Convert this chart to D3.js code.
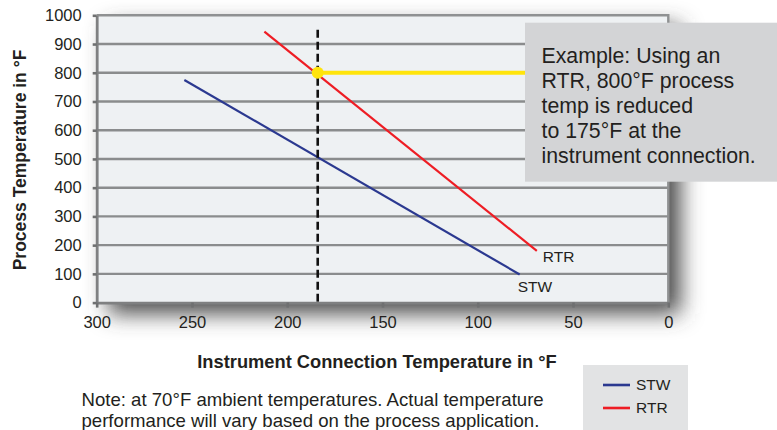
<!DOCTYPE html>
<html>
<head>
<meta charset="utf-8">
<script src="https://cdn.jsdelivr.net/npm/d3@7"></script>
<style>
  body { margin: 0; background: #fff; }
  svg { display: block; font-family: 'Liberation Sans', Arial, sans-serif; }
</style>
</head>
<body>
<svg width="777" height="430"></svg>
<script>
// Tick values for both axes
const xTicks = [300, 250, 200, 150, 100, 50, 0]
const yTicks = [0, 100, 200, 300, 400, 500, 600, 700, 800, 900, 1000]
// Each series is a straight line: connection temp (x) vs process temp (y)
const seriesNames = ['STW', 'RTR']
const stwConnection = [254, 78]
const stwProcess = [775, 98]
const rtrConnection = [212, 69]
const rtrProcess = [943, 180]
// Worked example marked on the chart
const exampleConnection = 184
const exampleProcess = 800
const exampleLineTop = 950
const exampleLines = [
  'Example: Using an',
  'RTR, 800°F process',
  'temp is reduced',
  'to 175°F at the',
  'instrument connection.',
]
const noteLines = [
  'Note: at 70°F ambient temperatures. Actual temperature',
  'performance will vary based on the process application.',
]

const colors = { STW: '#2b3990', RTR: '#ee1d24' }
const textColor = '#231f20'

const svg = d3.select('svg')

const x = d3.scaleLinear().domain([300, 0]).range([96.7, 668.3])
const y = d3.scaleLinear().domain([0, 1000]).range([302.6, 15.3])

const plotLeft = x(300)
const plotRight = x(0)
const plotTop = y(1000)
const plotBottom = y(0)

// Blurred drop shadow behind the plot area
svg
  .append('defs')
  .append('filter')
  .attr('id', 'shadow')
  .attr('x', '-20%')
  .attr('y', '-20%')
  .attr('width', '150%')
  .attr('height', '150%')
  .append('feGaussianBlur')
  .attr('stdDeviation', 11)

svg
  .append('rect')
  .attr('x', plotLeft + 12)
  .attr('y', plotTop + 11)
  .attr('width', plotRight - plotLeft)
  .attr('height', plotBottom - plotTop)
  .attr('fill', '#4a4a4a')
  .attr('filter', 'url(#shadow)')

svg
  .append('rect')
  .attr('x', plotLeft)
  .attr('y', plotTop)
  .attr('width', plotRight - plotLeft)
  .attr('height', plotBottom - plotTop)
  .attr('fill', '#eef1f3')

// Horizontal gridlines
svg
  .append('g')
  .selectAll('line')
  .data(yTicks.filter((d) => d > 0 && d < 1000))
  .enter()
  .append('line')
  .attr('x1', plotLeft)
  .attr('x2', plotRight)
  .attr('y1', (d) => y(d))
  .attr('y2', (d) => y(d))
  .attr('stroke', '#8a8c8d')
  .attr('stroke-width', 2.4)

// Top and right border of the plot
svg
  .append('path')
  .attr('d', `M${plotLeft},${plotTop}H${plotRight}V${plotBottom}`)
  .attr('fill', 'none')
  .attr('stroke', '#8f9192')
  .attr('stroke-width', 2.4)

// Series lines
const series = [
  { name: 'STW', xs: stwConnection, ys: stwProcess },
  { name: 'RTR', xs: rtrConnection, ys: rtrProcess },
]
const line = d3
  .line()
  .x((d) => x(d[0]))
  .y((d) => y(d[1]))

svg
  .append('g')
  .selectAll('path')
  .data(series)
  .enter()
  .append('path')
  .attr('d', (s) => line(d3.zip(s.xs, s.ys)))
  .attr('fill', 'none')
  .attr('stroke', (s) => colors[s.name])
  .attr('stroke-width', 2.2)

// End labels for the series
svg
  .append('text')
  .attr('x', x(rtrConnection[1]) + 6)
  .attr('y', y(rtrProcess[1]) + 11)
  .attr('font-size', 15.5)
  .attr('fill', textColor)
  .text('RTR')

svg
  .append('text')
  .attr('x', x(stwConnection[1]) - 2)
  .attr('y', y(stwProcess[1]) + 18)
  .attr('font-size', 15.5)
  .attr('fill', textColor)
  .text('STW')

// Dashed line at the example connection temperature
svg
  .append('line')
  .attr('x1', x(exampleConnection))
  .attr('x2', x(exampleConnection))
  .attr('y1', y(exampleLineTop))
  .attr('y2', y(0))
  .attr('stroke', '#111')
  .attr('stroke-width', 2.6)
  .attr('stroke-dasharray', '8,4')

// Yellow example line and dot
svg
  .append('line')
  .attr('x1', x(exampleConnection))
  .attr('x2', x(0))
  .attr('y1', y(exampleProcess))
  .attr('y2', y(exampleProcess))
  .attr('stroke', '#ffe40b')
  .attr('stroke-width', 4)

svg
  .append('circle')
  .attr('cx', x(exampleConnection))
  .attr('cy', y(exampleProcess))
  .attr('r', 6)
  .attr('fill', '#ffe40b')

// Axes
const yAxis = svg
  .append('g')
  .attr('transform', `translate(${plotLeft},0)`)
  .call(
    d3.axisLeft(y).tickValues(yTicks).tickFormat(d3.format('d'))
      .tickSizeInner(4).tickSizeOuter(0).tickPadding(11)
  )

const xAxis = svg
  .append('g')
  .attr('transform', `translate(0,${plotBottom})`)
  .call(
    d3.axisBottom(x).tickValues(xTicks).tickFormat(d3.format('d'))
      .tickSizeInner(5).tickSizeOuter(0).tickPadding(9)
  )

;[yAxis, xAxis].forEach((axis) => {
  axis.select('.domain').attr('stroke', '#7f8081').attr('stroke-width', 2.8)
  axis.selectAll('.tick line').attr('stroke', '#6f7071').attr('stroke-width', 2.6)
  axis
    .selectAll('.tick text')
    .attr('font-size', 16.5)
    .attr('fill', textColor)
    .attr('font-family', "'Liberation Sans', Arial, sans-serif")
})

// Example call-out box (covers the end of the yellow line)
svg
  .append('rect')
  .attr('x', 525)
  .attr('y', 22.7)
  .attr('width', 260)
  .attr('height', 159)
  .attr('fill', '#d3d4d6')

svg
  .append('g')
  .selectAll('text')
  .data(exampleLines)
  .enter()
  .append('text')
  .attr('x', 541.5)
  .attr('y', (_, i) => 62.5 + i * 25.2)
  .attr('font-size', 21.3)
  .attr('fill', textColor)
  .text((d) => d)

// Axis titles
svg
  .append('text')
  .attr('transform', 'translate(26,160) rotate(-90)')
  .attr('text-anchor', 'middle')
  .attr('font-size', 17.5)
  .attr('font-weight', 'bold')
  .attr('fill', textColor)
  .text('Process Temperature in °F')

svg
  .append('text')
  .attr('x', 377)
  .attr('y', 368)
  .attr('text-anchor', 'middle')
  .attr('font-size', 18.3)
  .attr('font-weight', 'bold')
  .attr('fill', textColor)
  .text('Instrument Connection Temperature in °F')

// Note under the chart
svg
  .append('g')
  .selectAll('text')
  .data(noteLines)
  .enter()
  .append('text')
  .attr('x', 81.5)
  .attr('y', (_, i) => 406 + i * 21)
  .attr('font-size', 18.6)
  .attr('fill', textColor)
  .text((d) => d)

// Legend
const legend = svg.append('g').attr('transform', 'translate(583,365)')
legend.append('rect').attr('width', 105).attr('height', 70).attr('fill', '#e2e3e4')

const legendItems = legend
  .selectAll('g')
  .data(seriesNames)
  .enter()
  .append('g')
  .attr('transform', (_, i) => `translate(0,${20 + i * 23})`)

legendItems
  .append('line')
  .attr('x1', 20)
  .attr('x2', 47)
  .attr('stroke', (d) => colors[d])
  .attr('stroke-width', 2.6)

legendItems
  .append('text')
  .attr('x', 53)
  .attr('dy', '0.35em')
  .attr('font-size', 15.5)
  .attr('fill', textColor)
  .text((d) => d)
</script>
</body>
</html>
